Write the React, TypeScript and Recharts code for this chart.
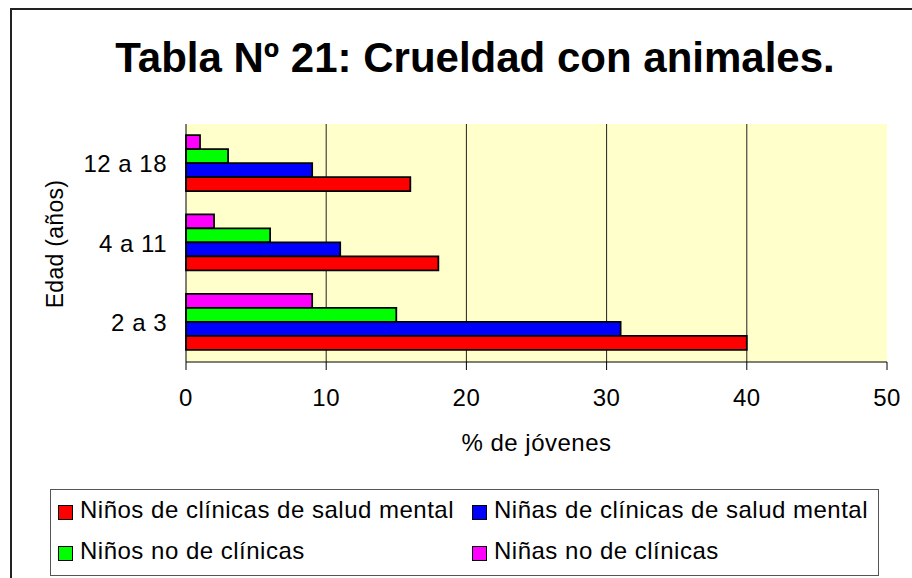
import { BarChart, Bar, XAxis, YAxis, CartesianGrid, Label } from 'recharts'

const AGES = ['12 a 18', '4 a 11', '2 a 3']
const BOYS_CLINIC = [16, 18, 40]
const GIRLS_CLINIC = [9, 11, 31]
const BOYS_NON_CLINIC = [3, 6, 15]
const GIRLS_NON_CLINIC = [1, 2, 9]
const X_TICKS = [0, 10, 20, 30, 40, 50]
const GRID_VALUES = [10, 20, 30, 40]
const BAND_EDGES = [0, 1, 2, 3]

const FONT = '"Liberation Sans", Arial, sans-serif'

// legend order (red, blue / green, magenta)
const SERIES = [
  { key: 'boysClinic', name: 'Niños de clínicas de salud mental', color: '#FF0000', values: BOYS_CLINIC },
  { key: 'girlsClinic', name: 'Niñas de clínicas de salud mental', color: '#0000FF', values: GIRLS_CLINIC },
  { key: 'boysNon', name: 'Niños no de clínicas', color: '#00FF00', values: BOYS_NON_CLINIC },
  { key: 'girlsNon', name: 'Niñas no de clínicas', color: '#FF00FF', values: GIRLS_NON_CLINIC },
]

const data = AGES.map((age, i) => {
  const row: Record<string, string | number> = { age }
  SERIES.forEach((s) => {
    row[s.key] = s.values[i]
  })
  return row
})

function LegendBox() {
  const spots = [
    { left: 7, top: 5 },
    { left: 421, top: 5 },
    { left: 7, top: 46 },
    { left: 421, top: 46 },
  ]
  return (
    <div
      style={{
        position: 'absolute',
        left: 50,
        top: 489,
        width: 829,
        height: 87,
        boxSizing: 'border-box',
        border: '1px solid #555',
        background: '#fff',
        fontFamily: FONT,
      }}
    >
      {SERIES.map((s, i) => (
        <div
          key={s.key}
          style={{ position: 'absolute', left: spots[i].left, top: spots[i].top, display: 'flex', alignItems: 'flex-start', height: 30 }}
        >
          <div
            style={{
              width: 15,
              height: 15,
              boxSizing: 'border-box',
              border: '1.5px solid #000',
              background: s.color,
              marginTop: 10,
            }}
          />
          <span style={{ marginLeft: 7, fontSize: 24, lineHeight: '30px', letterSpacing: 0.5, color: '#000', whiteSpace: 'nowrap' }}>
            {s.name}
          </span>
        </div>
      ))}
    </div>
  )
}

export default function App() {
  const bars = [...SERIES].reverse()
  return (
    <div style={{ position: 'absolute', left: 0, top: 0, width: 912, height: 578, overflow: 'hidden', background: '#fff' }}>
      <div
        style={{
          position: 'absolute',
          left: 10,
          top: 8,
          width: 1000,
          height: 700,
          border: '2px solid #222',
        }}
      />
      <div style={{ position: 'absolute', left: 0, top: 0 }}>
        <BarChart
          width={912}
          height={578}
          data={data}
          layout="vertical"
          margin={{ top: 124, right: 25, bottom: 116, left: 0 }}
          barCategoryGap="14%"
          barGap={0}
          style={{ fontFamily: FONT }}
        >
          <CartesianGrid
            horizontal={false}
            verticalValues={GRID_VALUES}
            stroke="#222"
            fill="#FFFFCC"
            fillOpacity={1}
          />
          <YAxis
            yAxisId={0}
            type="number"
            domain={[0, 3]}
            ticks={BAND_EDGES}
            width={0}
            tick={false}
            axisLine={false}
            tickSize={8}
            tickLine={{ stroke: '#000' }}
          />
          <YAxis
            yAxisId="cat"
            type="category"
            dataKey="age"
            width={186}
            tickLine={false}
            tickSize={8}
            tickMargin={11}
            axisLine={{ stroke: '#000' }}
            tick={{ fill: '#000', fontSize: 24, letterSpacing: 0.5 }}
          />
          <XAxis
            type="number"
            domain={[0, 50]}
            ticks={X_TICKS}
            interval={0}
            height={100}
            tickSize={8}
            tickMargin={19}
            axisLine={{ stroke: '#000' }}
            tickLine={{ stroke: '#000' }}
            tick={{ fill: '#000', fontSize: 24, letterSpacing: 0.5 }}
          >
            <Label value="% de jóvenes" position="insideBottom" offset={11} fill="#000" fontSize={24} letterSpacing={0.5} />
          </XAxis>
          {bars.map((s) => (
            <Bar
              key={s.key}
              yAxisId="cat"
              dataKey={s.key}
              name={s.name}
              fill={s.color}
              stroke="#000"
              strokeWidth={1.75}
              isAnimationActive={false}
            />
          ))}
        </BarChart>
      </div>
      <svg width={912} height={578} style={{ position: 'absolute', left: 0, top: 0, pointerEvents: 'none', fontFamily: FONT }}>
        <text x={475} y={72} textAnchor="middle" fontSize={42} fontWeight="bold" fill="#000">
          Tabla Nº 21: Crueldad con animales.
        </text>
        <text transform="translate(63,244) rotate(-90)" textAnchor="middle" fontSize={23} letterSpacing={0.3} fill="#000">
          Edad (años)
        </text>
      </svg>
      <LegendBox />
    </div>
  )
}
